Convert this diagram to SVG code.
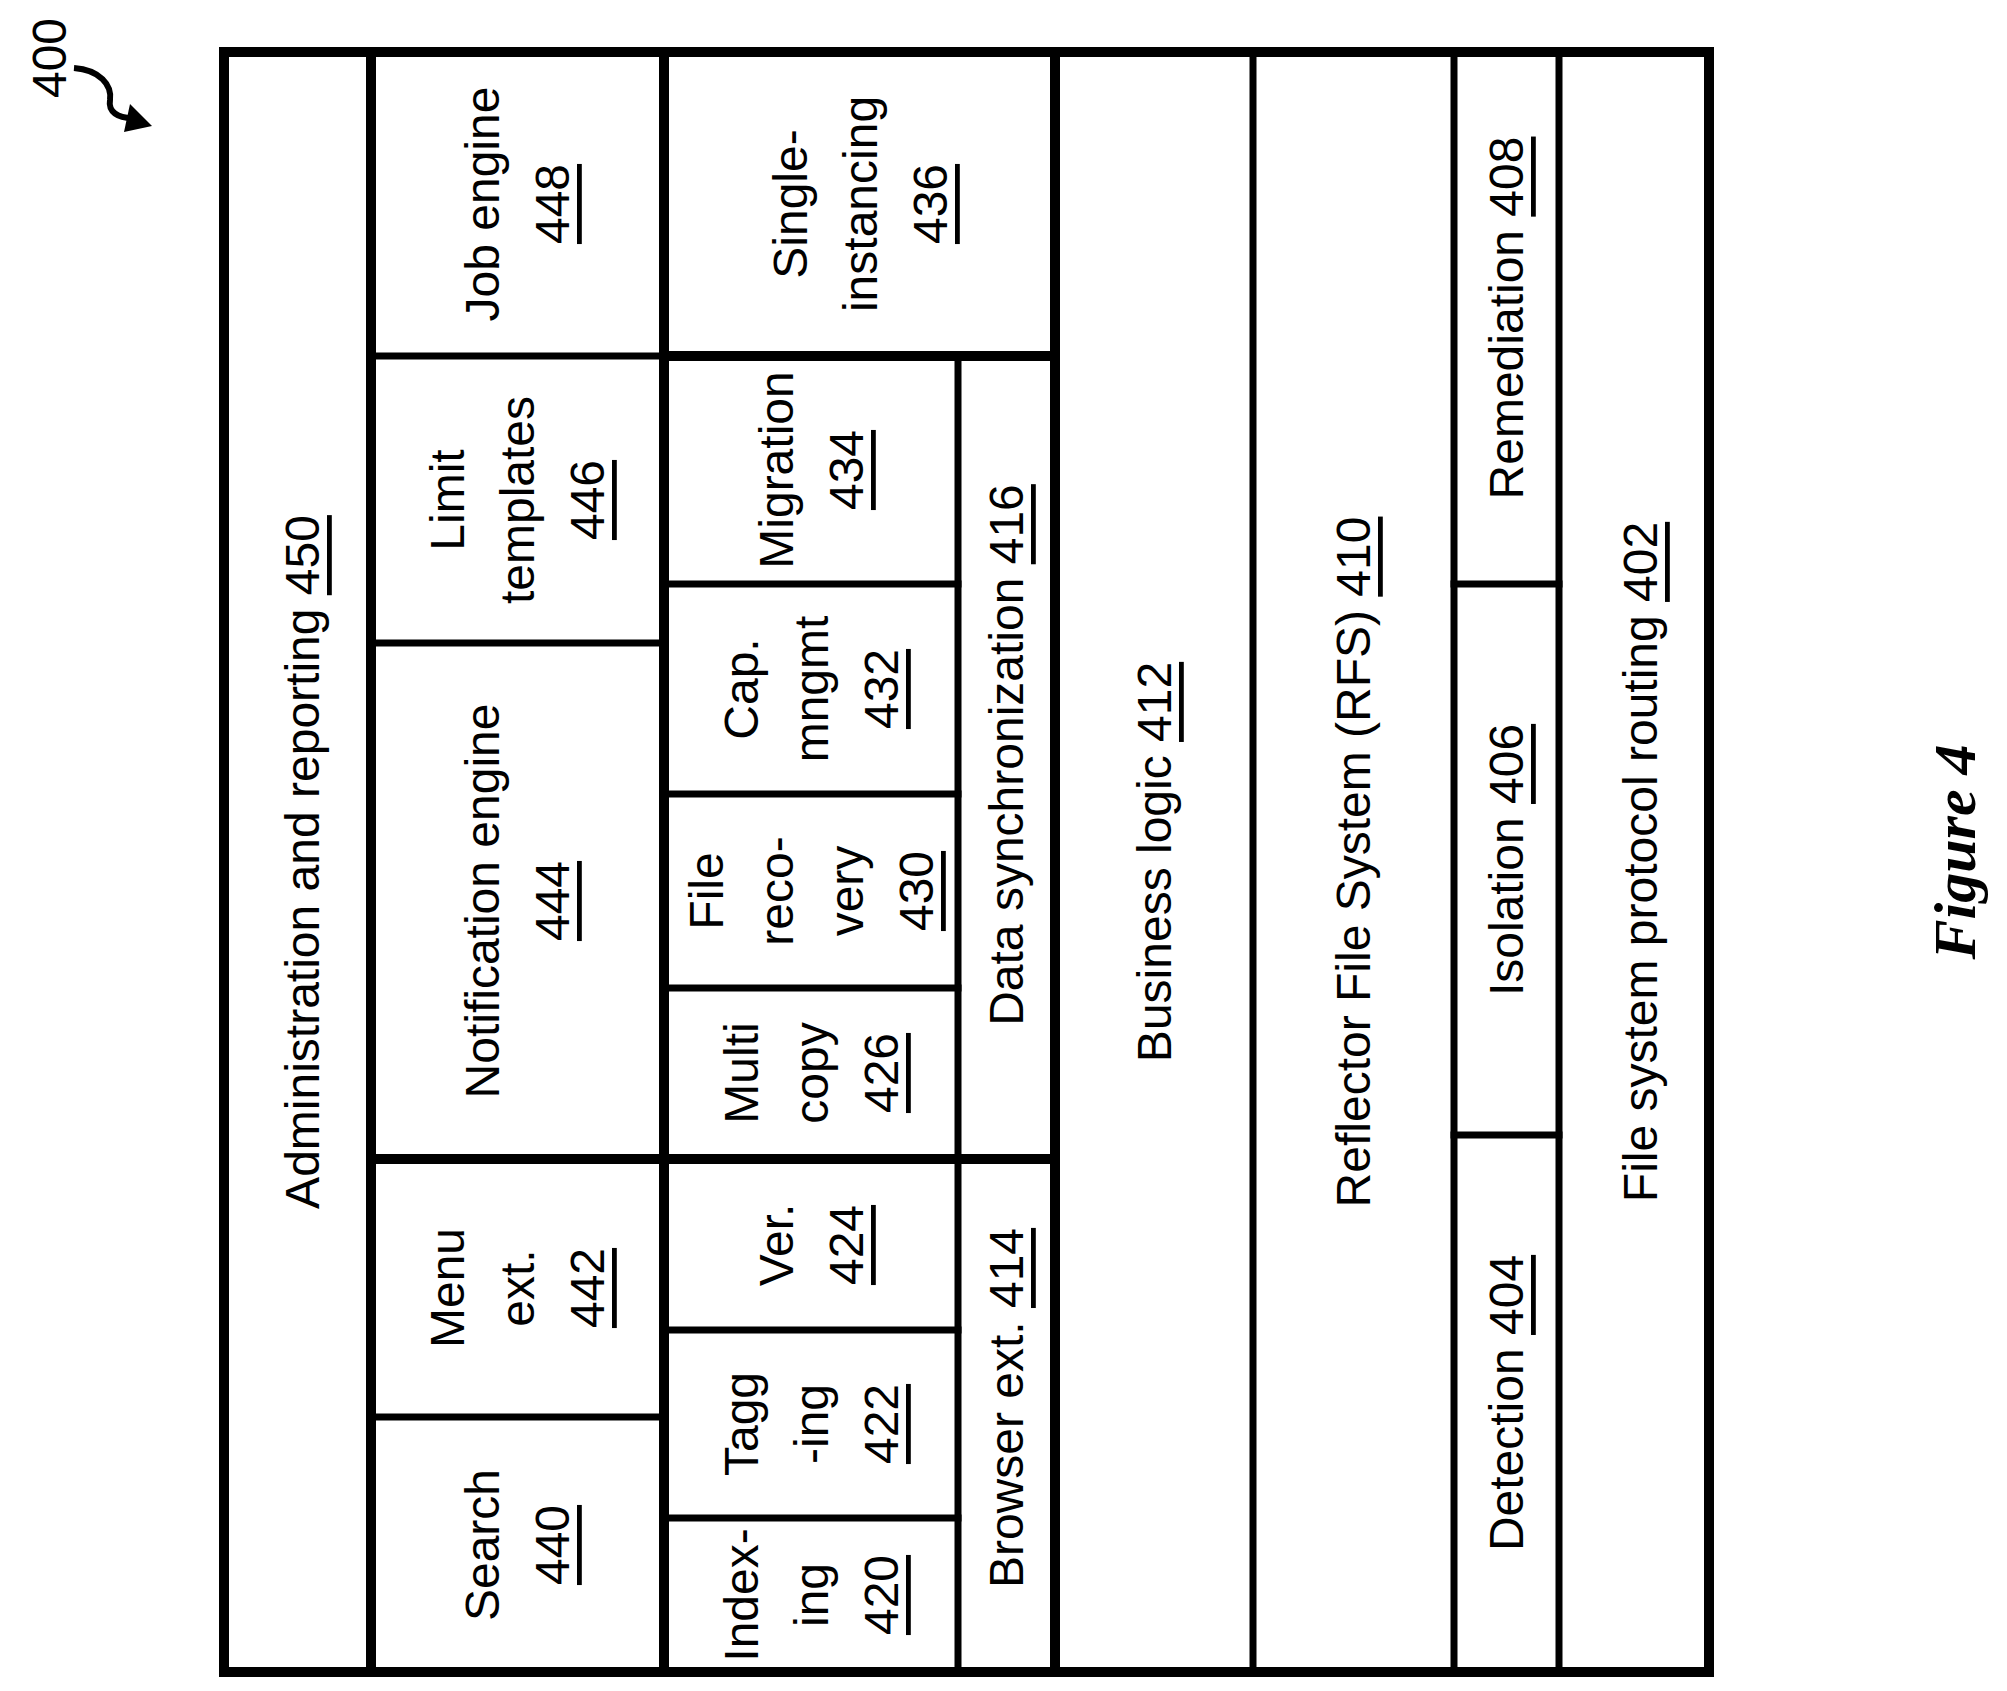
<svg xmlns="http://www.w3.org/2000/svg" width="2007" height="1691" viewBox="0 0 2007 1691">
<style>
.t{font-family:"Liberation Sans",Arial,sans-serif;font-size:48px;fill:#000;text-anchor:middle;dominant-baseline:central}
.u{text-decoration:underline}
.k{stroke:#000;stroke-width:10;fill:none;stroke-linecap:square}
.n{stroke:#000;stroke-width:7;fill:none;stroke-linecap:square}
</style>
<rect width="2007" height="1691" fill="#fff"/>
<g id="frame">
<rect class="k" x="224" y="52" width="1485" height="1620"/>
<line class="k" x1="371" y1="52" x2="371" y2="1672"/>
<line class="k" x1="664" y1="52" x2="664" y2="1672"/>
<line class="k" x1="1055" y1="52" x2="1055" y2="1672"/>
<line class="n" x1="958" y1="356" x2="958" y2="1672"/>
<line class="n" x1="1253" y1="52" x2="1253" y2="1672"/>
<line class="n" x1="1454" y1="52" x2="1454" y2="1672"/>
<line class="n" x1="1559" y1="52" x2="1559" y2="1672"/>
<line class="n" x1="371" y1="356" x2="664" y2="356"/>
<line class="k" x1="664" y1="356" x2="1055" y2="356"/>
<line class="n" x1="371" y1="643" x2="664" y2="643"/>
<line class="k" x1="371" y1="1159" x2="1055" y2="1159"/>
<line class="n" x1="371" y1="1417" x2="664" y2="1417"/>
<line class="n" x1="664" y1="584" x2="958" y2="584"/>
<line class="n" x1="664" y1="794" x2="958" y2="794"/>
<line class="n" x1="664" y1="988" x2="958" y2="988"/>
<line class="n" x1="664" y1="1330" x2="958" y2="1330"/>
<line class="n" x1="664" y1="1518" x2="958" y2="1518"/>
<line class="n" x1="1454" y1="584" x2="1559" y2="584"/>
<line class="n" x1="1454" y1="1135" x2="1559" y2="1135"/>
</g>
<g id="n450"><text class="t" transform="translate(302,862) rotate(-90)">Administration and reporting <tspan class="u">450</tspan></text></g>
<g id="n448"><text class="t" transform="translate(517,204) rotate(-90)"><tspan x="0" dy="-35">Job engine</tspan><tspan x="0" dy="70" class="u">448</tspan></text></g>
<g id="n446"><text class="t" transform="translate(517,500) rotate(-90)"><tspan x="0" dy="-70">Limit</tspan><tspan x="0" dy="70">templates</tspan><tspan x="0" dy="70" class="u">446</tspan></text></g>
<g id="n444"><text class="t" transform="translate(517,901) rotate(-90)"><tspan x="0" dy="-35">Notification engine</tspan><tspan x="0" dy="70" class="u">444</tspan></text></g>
<g id="n442"><text class="t" transform="translate(517,1288) rotate(-90)"><tspan x="0" dy="-70">Menu</tspan><tspan x="0" dy="70">ext.</tspan><tspan x="0" dy="70" class="u">442</tspan></text></g>
<g id="n440"><text class="t" transform="translate(517,1545) rotate(-90)"><tspan x="0" dy="-35">Search</tspan><tspan x="0" dy="70" class="u">440</tspan></text></g>
<g id="n436"><text class="t" transform="translate(860,204) rotate(-90)"><tspan x="0" dy="-70">Single-</tspan><tspan x="0" dy="70">instancing</tspan><tspan x="0" dy="70" class="u">436</tspan></text></g>
<g id="n434"><text class="t" transform="translate(811,470) rotate(-90)"><tspan x="0" dy="-35">Migration</tspan><tspan x="0" dy="70" class="u">434</tspan></text></g>
<g id="n432"><text class="t" transform="translate(811,689) rotate(-90)"><tspan x="0" dy="-70">Cap.</tspan><tspan x="0" dy="70">mngmt</tspan><tspan x="0" dy="70" class="u">432</tspan></text></g>
<g id="n430"><text class="t" transform="translate(811,891) rotate(-90)"><tspan x="0" dy="-105">File</tspan><tspan x="0" dy="70">reco-</tspan><tspan x="0" dy="70">very</tspan><tspan x="0" dy="70" class="u">430</tspan></text></g>
<g id="n426"><text class="t" transform="translate(811,1073) rotate(-90)"><tspan x="0" dy="-70">Multi</tspan><tspan x="0" dy="70">copy</tspan><tspan x="0" dy="70" class="u">426</tspan></text></g>
<g id="n424"><text class="t" transform="translate(811,1245) rotate(-90)"><tspan x="0" dy="-35">Ver.</tspan><tspan x="0" dy="70" class="u">424</tspan></text></g>
<g id="n422"><text class="t" transform="translate(811,1424) rotate(-90)"><tspan x="0" dy="-70">Tagg</tspan><tspan x="0" dy="70">-ing</tspan><tspan x="0" dy="70" class="u">422</tspan></text></g>
<g id="n420"><text class="t" transform="translate(811,1595) rotate(-90)"><tspan x="0" dy="-70">Index-</tspan><tspan x="0" dy="70">ing</tspan><tspan x="0" dy="70" class="u">420</tspan></text></g>
<g id="n416"><text class="t" transform="translate(1006,755) rotate(-90)">Data synchronization <tspan class="u">416</tspan></text></g>
<g id="n414"><text class="t" transform="translate(1006,1408) rotate(-90)">Browser ext. <tspan class="u">414</tspan></text></g>
<g id="n412"><text class="t" transform="translate(1154,862) rotate(-90)">Business logic <tspan class="u">412</tspan></text></g>
<g id="n410"><text class="t" transform="translate(1353,862) rotate(-90)">Reflector File System (RFS) <tspan class="u">410</tspan></text></g>
<g id="n408"><text class="t" transform="translate(1506,318) rotate(-90)">Remediation <tspan class="u">408</tspan></text></g>
<g id="n406"><text class="t" transform="translate(1506,860) rotate(-90)">Isolation <tspan class="u">406</tspan></text></g>
<g id="n404"><text class="t" transform="translate(1506,1403) rotate(-90)">Detection <tspan class="u">404</tspan></text></g>
<g id="n402"><text class="t" transform="translate(1640,862) rotate(-90)">File system protocol routing <tspan class="u">402</tspan></text></g>
<g id="label400">
<text class="t" transform="translate(49,58) rotate(-90)">400</text>
</g>
<g id="connectors">
<path d="M74,68 C100,70 112,85 110,100 C108,112 118,118 132,118" fill="none" stroke="#000" stroke-width="6"/>
<polygon points="152,126 124,132 130,104" fill="#000"/>
</g>
<text transform="translate(1955,852) rotate(-90)" font-family="Liberation Serif,serif" font-style="italic" font-weight="bold" font-size="60" text-anchor="middle" dominant-baseline="central">Figure 4</text>
</svg>
